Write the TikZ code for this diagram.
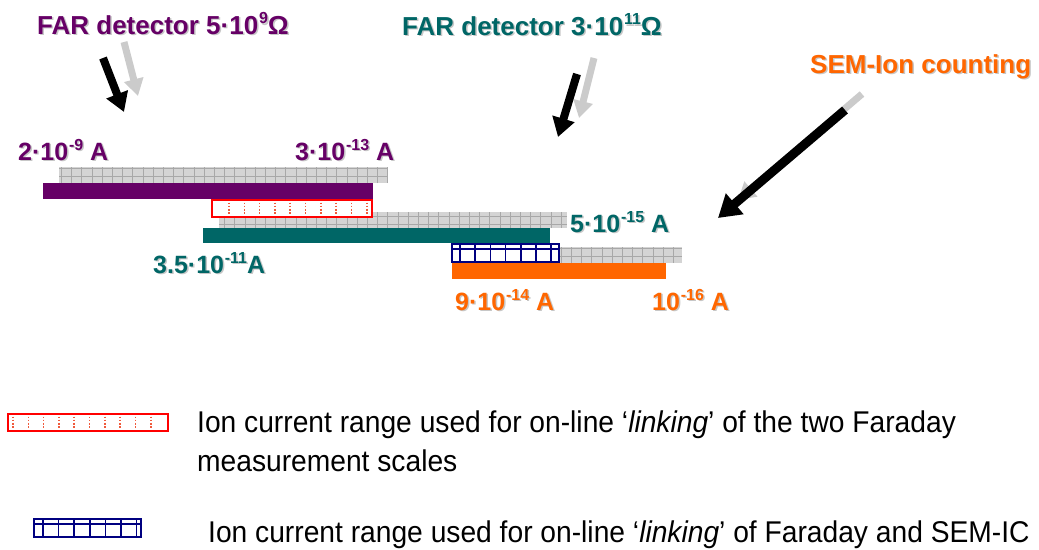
\documentclass[tikz,border=0pt]{standalone}
\usepackage{fontspec}
\setmainfont{Liberation Sans}
\newfontfamily\legfont[FakeStretch=0.94]{Liberation Sans}
\usetikzlibrary{arrows.meta}
\definecolor{cpurple}{HTML}{660066}
\definecolor{cteal}{HTML}{006666}
\definecolor{corange}{HTML}{FF6600}
\definecolor{cnavy}{HTML}{000080}
\definecolor{cred}{HTML}{FF0000}
\definecolor{cdot}{HTML}{F05A3C}
\definecolor{gfill}{HTML}{D4D4D4}
\definecolor{gline}{HTML}{A8A8A8}
\definecolor{garrowc}{HTML}{CBCBCB}
\newcommand\myup[1]{\kern0.8pt\raisebox{0.4em}{\fontsize{16}{16}\selectfont #1}}
\newcommand\shtext[5]{%
  \node[#2,text=black!22] (#1sh) at ([shift={(1.5,1.5)}]#3) {#5};
  \node[#2,text=#4] (#1) at (#3) {#5};}
\begin{document}
\begin{tikzpicture}[x=1pt,y=-1pt,
  lab/.style={inner sep=0pt,anchor=base west,font=\fontsize{25}{30}\selectfont\bfseries},
  ttl/.style={inner sep=0pt,anchor=base west,font=\fontsize{26}{31}\selectfont\bfseries},
  leg/.style={inner sep=0pt,anchor=base west,font=\fontsize{30}{39}\selectfont\legfont},
  gbar/.style={fill=gfill},
  ggrid/.style={draw=gline,line width=0.6pt,xstep=10.2pt,ystep=8pt},
  redbox/.style={draw=cred,line width=2.6pt,fill=white},
  reddots/.style={draw=cdot,line width=1.6pt,dash pattern=on 1.6pt off 1.6pt},
  bluebox/.style={draw=cnavy,line width=2.6pt,fill=white},
  bluelines/.style={draw=cnavy,line width=1.5pt},
  blackarrow/.style={draw=black,line width=8pt,-{Triangle[length=19pt,width=22pt]}},
  grayarrow/.style={draw=garrowc,line width=7pt,-{Triangle[length=17pt,width=19pt]}}
]
\useasboundingbox (0,0) rectangle (1039,549);

% ---------- titles ----------
\shtext{t1}{ttl}{37,34}{cpurple}{FAR detector 5·10\myup{9}Ω}
\shtext{t2}{ttl}{402,35}{cteal}{FAR detector 3·10\myup{11}Ω}
\shtext{t3}{ttl}{810,73}{corange}{SEM-Ion counting}

% ---------- arrows ----------
\coordinate (g1t) at (124,42);  \coordinate (g1h) at (138,96);
\coordinate (a1t) at (103,58);  \coordinate (a1h) at (124,112);
\coordinate (g2t) at (594,58);  \coordinate (g2h) at (579,118);
\coordinate (a2t) at (577,74);  \coordinate (a2h) at (558,137);
\coordinate (g3t) at (862,94);  \coordinate (g3h) at (738,200);
\coordinate (a3t) at (845,110); \coordinate (a3h) at (718,218);
\draw[grayarrow] (g1t) -- (g1h);
\draw[blackarrow] (a1t) -- (a1h);
\draw[grayarrow] (g2t) -- (g2h);
\draw[blackarrow] (a2t) -- (a2h);
\draw[grayarrow] (g3t) -- (g3h);
\draw[blackarrow,line width=9pt,-{Triangle[length=22pt,width=26pt]}] (a3t) -- (a3h);

% ---------- range labels ----------
\shtext{l1}{lab}{18,160}{cpurple}{2·10\myup{-9} A}
\shtext{l2}{lab}{295,160}{cpurple}{3·10\myup{-13} A}
\shtext{l3}{lab}{153,273}{cteal}{3.5·10\myup{-11}A}
\shtext{l4}{lab}{570,232}{cteal}{5·10\myup{-15} A}
\shtext{l5}{lab}{455,310}{corange}{9·10\myup{-14} A}
\shtext{l6}{lab}{652,310}{corange}{10\myup{-16} A}

% ---------- bars ----------
\fill[gbar] (59,167) rectangle (388,183);
\draw[ggrid] (59,167) grid (388,183);
\fill[cpurple] (43,183) rectangle (373,199);

\fill[gbar] (219,212) rectangle (567,228);
\draw[ggrid] (219,212) grid (567,228);
\draw[redbox] (212,200) rectangle (372,217);
\foreach \xx in {229,244.3,...,368} \draw[reddots] (\xx,202.5) -- (\xx,215);
\fill[cteal] (203,228) rectangle (550,243);

\fill[gbar] (455,247) rectangle (682,263);
\draw[ggrid] (455,247) grid (682,263);
\draw[bluebox] (452,244) rectangle (559,262);
\draw[bluelines] (452,249) -- (559,249);
\foreach \xx in {460,475.2,...,553} \draw[bluelines] (\xx,244) -- (\xx,262);
\fill[corange] (452,263) rectangle (666,279);

% ---------- legend ----------
\draw[redbox] (8,414) rectangle (168,431);
\foreach \xx in {13,28.3,...,166} \draw[reddots] (\xx,416.5) -- (\xx,429);
\draw[bluebox] (34,519) rectangle (141,537);
\draw[bluelines] (34,524) -- (141,524);
\foreach \xx in {43,58.6,...,138} \draw[bluelines] (\xx,519) -- (\xx,537);

\node[leg] (lg1) at (197,432) {Ion current range used for on-line ‘\textit{linking}’ of the two Faraday};
\node[leg] (lg2) at (197,471) {measurement scales};
\node[leg] (lg3) at (208,542) {Ion current range used for on-line ‘\textit{linking}’ of Faraday and SEM-IC};
\end{tikzpicture}
\end{document}
